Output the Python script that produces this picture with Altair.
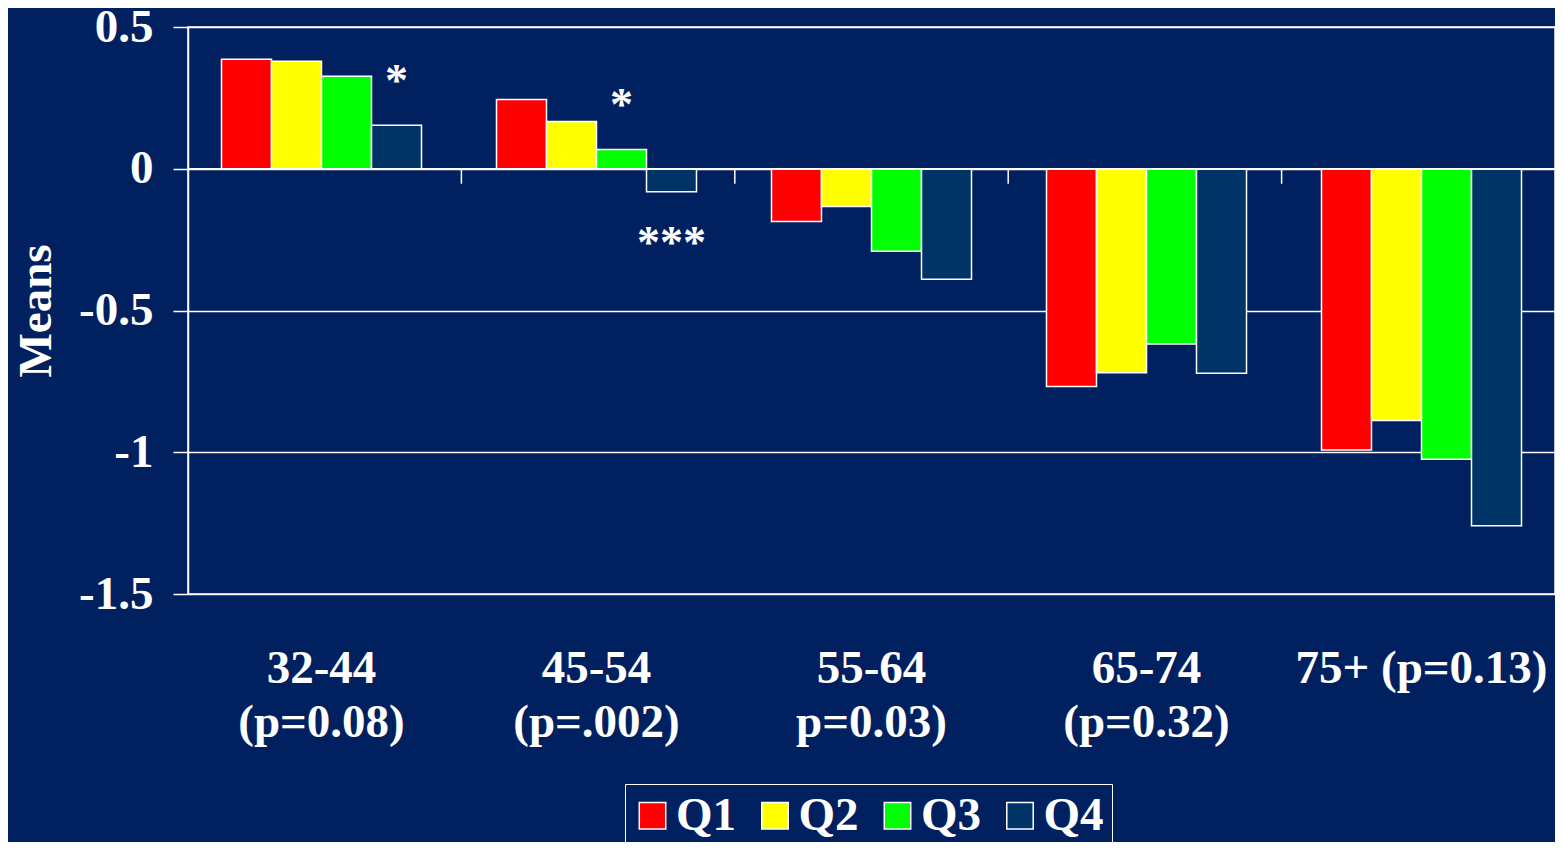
import altair as alt
import pandas as pd

categories = ["32-44\n(p=0.08)", "45-54\n(p=.002)", "55-64\np=0.03)", "65-74\n(p=0.32)", "75+ (p=0.13)"]
series = ["Q1", "Q2", "Q3", "Q4"]
q1 = [0.386, 0.244, -0.186, -0.768, -0.992]
q2 = [0.379, 0.167, -0.133, -0.720, -0.888]
q3 = [0.326, 0.068, -0.291, -0.618, -1.025]
q4 = [0.153, -0.081, -0.390, -0.721, -1.259]
colors = ["#FF0000", "#FFFF00", "#00FF00", "#003366"]

ann_cat = [categories[0], categories[1], categories[1]]
ann_series = ["Q4", "Q3", "Q4"]
ann_y = [0.257, 0.172, -0.314]
ann_text = ["*", "*", "***"]

y_ticks = [0.5, 0, -0.5, -1, -1.5]
group_bounds = [1, 2, 3, 4]
tick_len = 0.053

BG = "#002060"
FONT = "Liberation Serif"

rows = []
for vals, s in zip([q1, q2, q3, q4], series):
    for c, v in zip(categories, vals):
        rows.append({"cat": c, "series": s, "value": v})
df = pd.DataFrame(rows)
ann = pd.DataFrame({"cat": ann_cat, "series": ann_series, "value": ann_y, "text": ann_text})
bounds_df = pd.DataFrame({"b": group_bounds})

xscale = alt.Scale(domain=categories, paddingInner=0.2727, paddingOuter=0.1218)
offscale = alt.Scale(domain=series, paddingInner=0, paddingOuter=0)
yscale = alt.Scale(domain=[-1.5, 0.5], nice=False, zero=False)

bars = alt.Chart(df).mark_bar(stroke="white", strokeWidth=1.5).encode(
    x=alt.X("cat:N", sort=categories, scale=xscale, title=None,
            axis=alt.Axis(orient="bottom", domain=False, ticks=False, grid=False,
                          labelAngle=0, labelFont=FONT, labelFontWeight="bold",
                          labelFontSize=47, labelColor="white", labelLineHeight=54,
                          labelPadding=51, labelBaseline="top", labelLimit=400,
                          labelExpr="split(datum.label, '\\n')")),
    xOffset=alt.XOffset("series:N", sort=series, scale=offscale),
    y=alt.Y("value:Q", scale=yscale, title="Means",
            axis=alt.Axis(values=y_ticks, labelExpr="datum.value + ''",
                          grid=True, gridColor="white", gridWidth=1.5, gridOpacity=1,
                          domain=True, domainColor="white", domainWidth=1.5,
                          ticks=True, tickColor="white", tickSize=15, tickWidth=1.5,
                          labelFont=FONT, labelFontWeight="bold", labelFontSize=47,
                          labelColor="white", labelPadding=20,
                          titleFont=FONT, titleFontWeight="bold", titleFontSize=47,
                          titleColor="white", titlePadding=18)),
    color=alt.Color("series:N", sort=series, scale=alt.Scale(domain=series, range=colors),
                    legend=alt.Legend(title=None, orient="none", legendX=437, legendY=757,
                                      direction="horizontal", padding=8,
                                      strokeColor="white", fillColor=BG,
                                      symbolType="square", symbolSize=700,
                                      symbolStrokeColor="white", symbolStrokeWidth=1.5,
                                      symbolOpacity=1, symbolOffset=-4,
                                      labelFont=FONT, labelFontWeight="bold",
                                      labelFontSize=47, labelColor="white",
                                      labelOffset=0, columnPadding=18.5, labelLimit=200)),
)

zero_line = alt.Chart(bounds_df).mark_rule(color="white", strokeWidth=1.5).encode(
    y=alt.datum(0, scale=yscale),
)

x_ticks = alt.Chart(bounds_df).mark_rule(color="white", strokeWidth=1.5).encode(
    x=alt.X("b:Q", scale=alt.Scale(domain=[0, len(categories)], nice=False, zero=False),
            axis=None),
    y=alt.datum(0),
    y2=alt.datum(-tick_len),
)

texts = alt.Chart(ann).mark_text(font=FONT, fontWeight="bold", fontSize=46, color="white",
                                 baseline="alphabetic", align="center").encode(
    x=alt.X("cat:N", sort=categories, scale=xscale, title=None),
    xOffset=alt.XOffset("series:N", sort=series, scale=offscale),
    y=alt.Y("value:Q", scale=yscale, title="Means"),
    text="text:N",
)

main = alt.layer(bars, zero_line, texts)

chart = alt.layer(main, x_ticks).resolve_scale(x="independent").properties(
    width=1367, height=567,
    padding={"left": 180, "top": 19, "right": 0, "bottom": 248},
    autosize=alt.AutoSizeParams(type="none"),
    background=BG,
).configure_view(stroke="white", strokeWidth=1.5)

chart.save("out.html", embed_options={"renderer": "svg", "actions": False})
